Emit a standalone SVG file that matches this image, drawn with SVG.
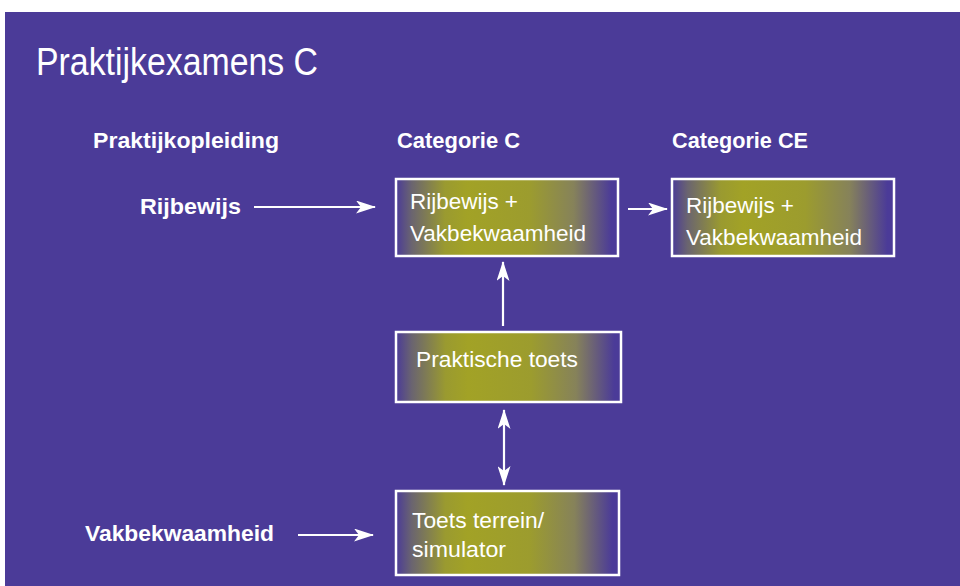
<svg xmlns="http://www.w3.org/2000/svg" width="960" height="586" viewBox="0 0 960 586">
<defs>
<linearGradient id="g" x1="0" y1="0" x2="1" y2="0">
<stop offset="0" stop-color="#4B3B98"/>
<stop offset="0.07" stop-color="#6A6470"/>
<stop offset="0.22" stop-color="#9A9A30"/>
<stop offset="0.32" stop-color="#A2A226"/>
<stop offset="0.6" stop-color="#9C9C2E"/>
<stop offset="0.8" stop-color="#86825A"/>
<stop offset="0.97" stop-color="#4B3B98"/>
</linearGradient>
<marker id="ahL" viewBox="0 0 20 13" refX="19" refY="6.5" markerWidth="20" markerHeight="13" markerUnits="userSpaceOnUse" orient="auto-start-reverse">
<path d="M0,0 L20,6.5 L0,13 L5,6.5 Z" fill="#fff"/>
</marker>
</defs>
<style>
.box{fill:url(#g);stroke:#fff;stroke-width:2.5}
.t{font-family:"Liberation Sans",Arial,sans-serif;fill:#fff}
.b{font-weight:bold;font-size:22px}
.n{font-size:22px}
.c{stroke:#fff;stroke-width:2.2;fill:none}
</style>
<rect width="960" height="586" fill="#fff"/>
<rect x="5" y="12" width="955" height="574" fill="#4B3B98"/>
<text class="t" x="36" y="75" font-size="38" textLength="282" lengthAdjust="spacingAndGlyphs">Praktijkexamens C</text>
<text class="t b" x="93" y="148" textLength="186" lengthAdjust="spacingAndGlyphs">Praktijkopleiding</text>
<text class="t b" x="397" y="148" textLength="123" lengthAdjust="spacingAndGlyphs">Categorie C</text>
<text class="t b" x="672" y="148" textLength="136" lengthAdjust="spacingAndGlyphs">Categorie CE</text>
<text class="t b" x="140" y="214" textLength="101" lengthAdjust="spacingAndGlyphs">Rijbewijs</text>
<text class="t b" x="85" y="541" textLength="189" lengthAdjust="spacingAndGlyphs">Vakbekwaamheid</text>
<g id="box1">
<rect class="box" x="396" y="179" width="222" height="77"/>
<text class="t n" x="410" y="209" textLength="108" lengthAdjust="spacingAndGlyphs">Rijbewijs +</text>
<text class="t n" x="410" y="241" textLength="176" lengthAdjust="spacingAndGlyphs">Vakbekwaamheid</text>
</g>
<g id="box2">
<rect class="box" x="672" y="179" width="222" height="77"/>
<text class="t n" x="686" y="213" textLength="108" lengthAdjust="spacingAndGlyphs">Rijbewijs +</text>
<text class="t n" x="686" y="245" textLength="176" lengthAdjust="spacingAndGlyphs">Vakbekwaamheid</text>
</g>
<g id="box3">
<rect class="box" x="396" y="332" width="225" height="70"/>
<text class="t n" x="416" y="367" textLength="162" lengthAdjust="spacingAndGlyphs">Praktische toets</text>
</g>
<g id="box4">
<rect class="box" x="396" y="491" width="223" height="84"/>
<text class="t n" x="412" y="528" textLength="132" lengthAdjust="spacingAndGlyphs">Toets terrein/</text>
<text class="t n" x="412" y="557" textLength="94" lengthAdjust="spacingAndGlyphs">simulator</text>
</g>
<g id="connectors">
<line class="c" x1="254" y1="207" x2="375" y2="207" marker-end="url(#ahL)"/>
<line class="c" x1="298" y1="535" x2="373" y2="535" marker-end="url(#ahL)"/>
<line class="c" x1="628" y1="209" x2="667" y2="209" marker-end="url(#ahL)"/>
<line class="c" x1="503" y1="326" x2="503" y2="262" marker-end="url(#ahL)"/>
<line class="c" x1="504" y1="410" x2="504" y2="485" marker-start="url(#ahL)" marker-end="url(#ahL)"/>
</g>
</svg>
